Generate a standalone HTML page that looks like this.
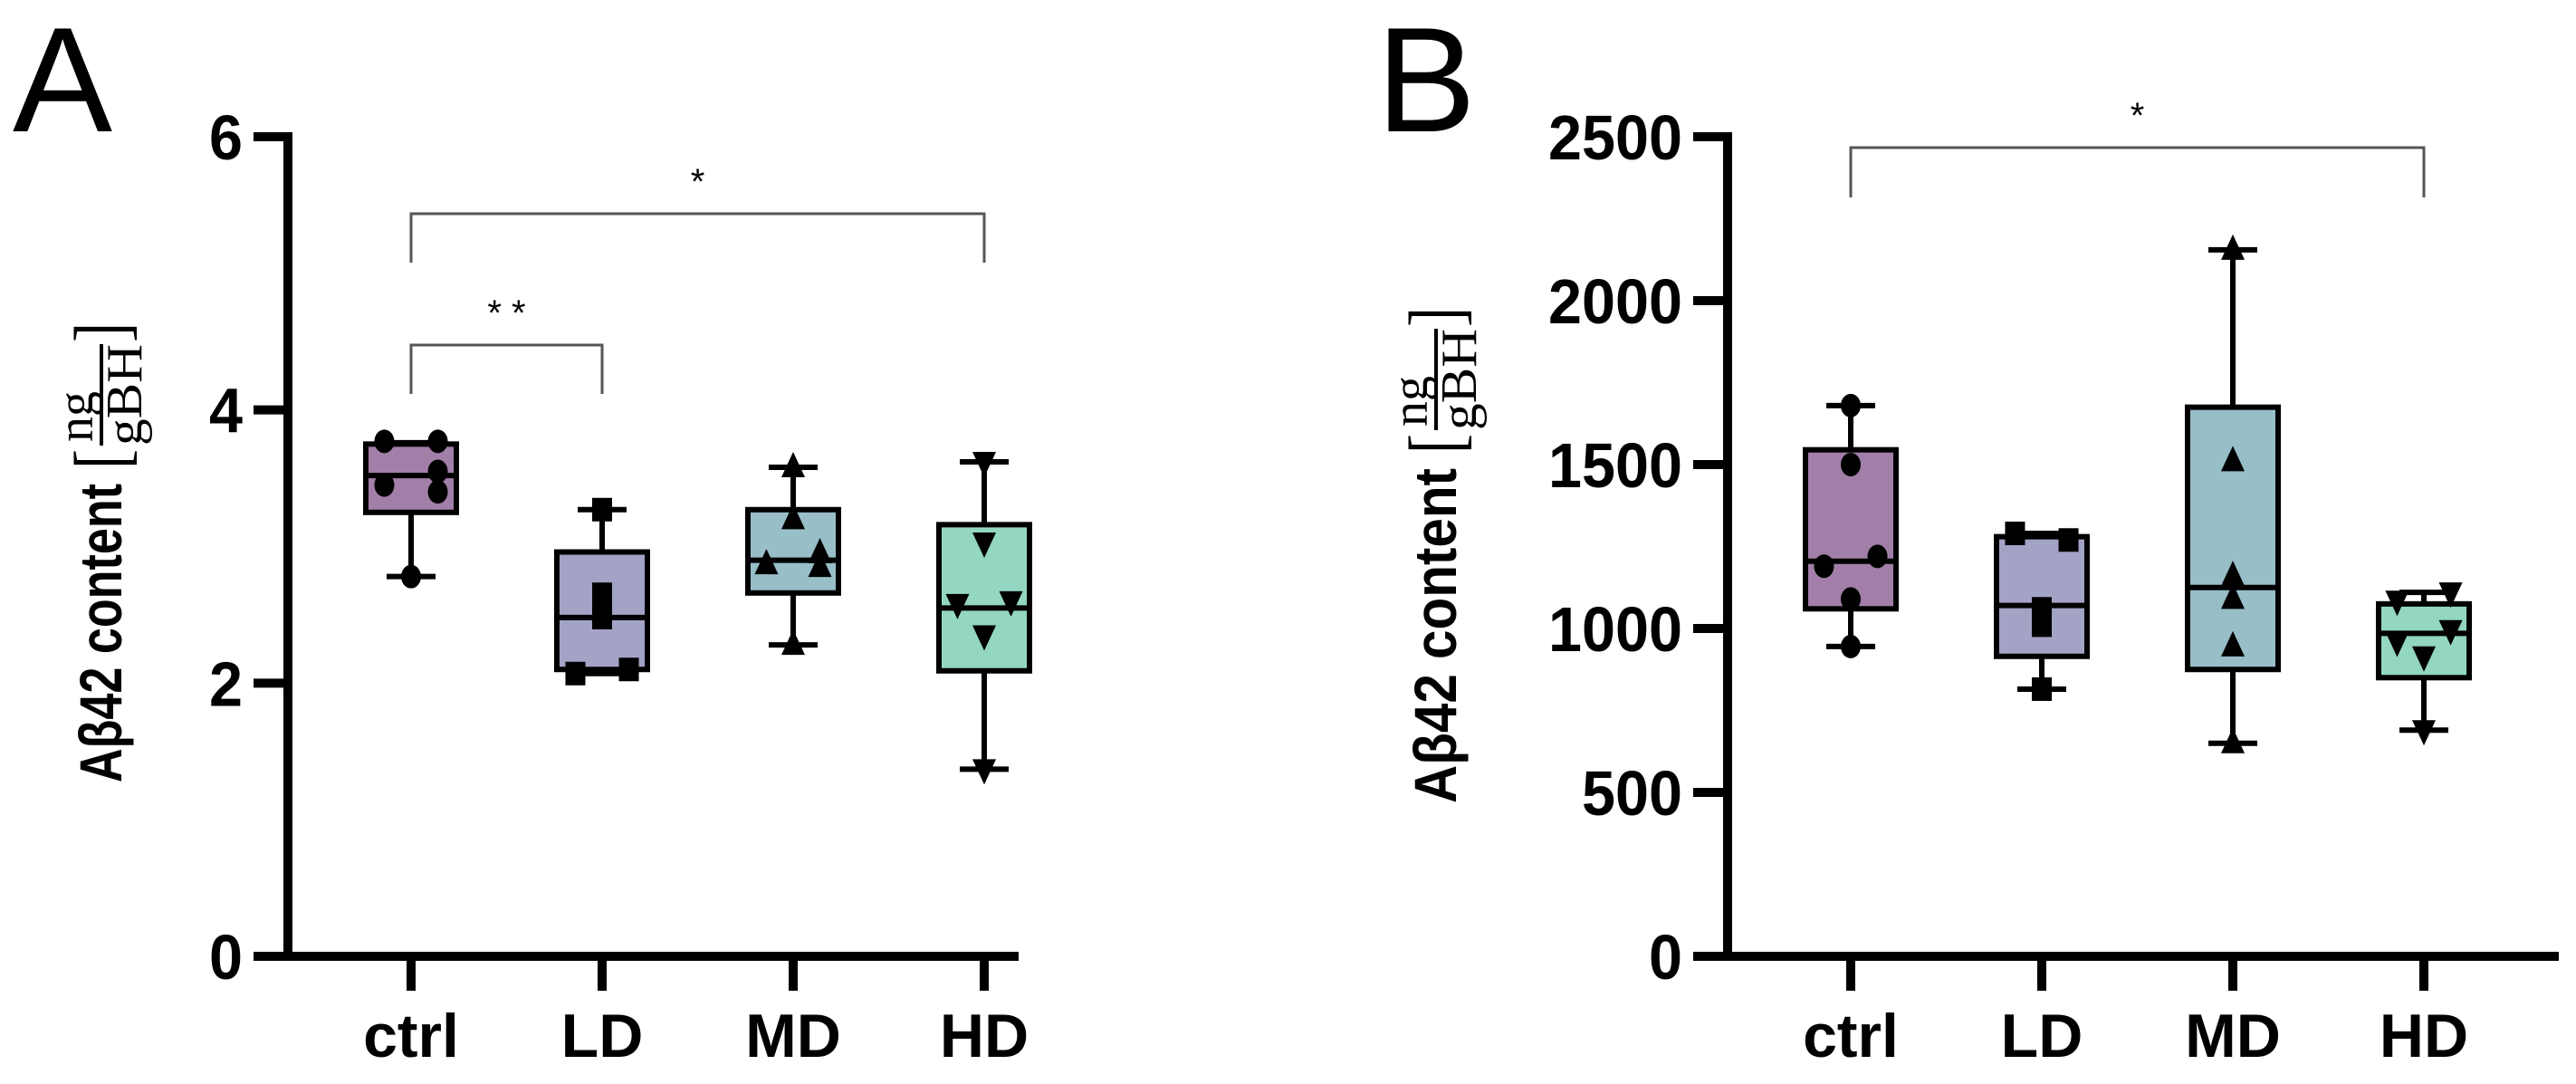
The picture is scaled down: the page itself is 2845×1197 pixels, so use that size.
<!DOCTYPE html>
<html><head><meta charset="utf-8"><style>
html,body{margin:0;padding:0;background:#fff;}
svg{display:block;font-family:"Liberation Sans",sans-serif;}
</style></head><body>
<svg id="fig" width="2845" height="1197" viewBox="0 0 2845 1197" xmlns="http://www.w3.org/2000/svg">
<text x="14" y="145" font-size="165">A</text>
<text x="1520" y="145" font-size="165">B</text>
</svg>
<script>
const categories = ["ctrl","LD","MD","HD"];
const colors = ["#a27fa8","#a3a3c6","#98bec8","#93d6c2"];
const markers = ["circle","square","triangle","tri-down"];
// Panel A
const aTicks = [0,2,4,6];
const aWhiskerLow = [2.78,2.07,2.28,1.37];
const aQ1 = [3.25,2.10,2.66,2.09];
const aMedian = [3.52,2.48,2.90,2.55];
const aQ3 = [3.75,2.96,3.27,3.16];
const aWhiskerHigh = [3.76,3.27,3.58,3.62];
const aPoints = [[3.77,3.77,3.55,3.45,3.40,2.78],[3.27,2.65,2.48,2.07,2.10],[3.58,3.20,2.95,2.87,2.85,2.28],[3.62,3.03,2.60,2.58,2.35,1.37]];
// Panel B
const bTicks = [0,500,1000,1500,2000,2500];
const bWhiskerLow = [945,815,650,690];
const bQ1 = [1060,915,875,850];
const bMedian = [1205,1070,1125,985];
const bQ3 = [1545,1280,1675,1075];
const bWhiskerHigh = [1680,1290,2155,1110];
const bPoints = [[1680,1500,1220,1190,1090,945],[1290,1270,1060,1010,815],[2155,1510,1160,1090,945,650],[1110,1085,995,960,915,690]];
const aJit = [[-0.14,0.14,0.14,-0.14,0.14,0],[0,0,0,-0.14,0.14],[0,0,0.14,-0.14,0.14,0],[0,0,0.14,-0.14,0,0]];
const bJit = [[0,0,0.14,-0.14,0,0],[-0.14,0.14,0,0,0],[0,0,0,0,0,0],[0.14,-0.14,0.14,-0.14,0,0]];

const NS="http://www.w3.org/2000/svg";
const svg=document.getElementById('fig');
function mk(tag,attrs,parent){const e=document.createElementNS(NS,tag);for(const k in attrs)e.setAttribute(k,attrs[k]);(parent||svg).appendChild(e);return e;}

function panel(cfg){
  const g=mk('g',{});
  
  
  const y=v=>cfg.y0-(v-0)/(cfg.ymax)*(cfg.y0-cfg.ytop);
  const x=i=>cfg.x0+i*cfg.step;
  const ya=mk('line',{x1:cfg.ax,y1:cfg.ytop-5,x2:cfg.ax,y2:cfg.y0+5,stroke:'#000','stroke-width':10},g);
  
  
  const xa=mk('line',{x1:cfg.ax-38,y1:cfg.y0,x2:cfg.xend,y2:cfg.y0,stroke:'#000','stroke-width':10},g);
  
  
  cfg.ticks.forEach(t=>{
    mk('line',{x1:cfg.ax-38,y1:y(t),x2:cfg.ax,y2:y(t),stroke:'#000','stroke-width':10},g);
    const s=String(t);
    const tl=mk('text',{x:cfg.ax-50,y:y(t)+25,'font-size':70,'font-weight':'bold','text-anchor':'end',textLength:s.length*37,lengthAdjust:'spacingAndGlyphs'},g);
    tl.textContent=s;
    
    
  });
  categories.forEach((c,i)=>{
    mk('line',{x1:x(i),y1:cfg.y0,x2:x(i),y2:cfg.y0+38,stroke:'#000','stroke-width':10},g);
    const cl=mk('text',{x:x(i),y:1167,'font-size':68,'font-weight':'bold','text-anchor':'middle'},g);
    cl.textContent=c;
    
    
  });
  const tg=mk('g',{transform:`translate(${cfg.titleX},${cfg.titleBottom}) rotate(-90)`},g);
  
  
  mk('text',{x:0,y:0,'font-size':66,'font-weight':'bold',textLength:cfg.titleLen,lengthAdjust:'spacingAndGlyphs'},tg).textContent='Aβ42 content';
  const st={'font-family':'Liberation Serif, serif'};
  const u=mk('g',{transform:`translate(${cfg.titleLen+16},-22)`},tg);
  
  
  mk('text',Object.assign({x:0,y:28,'font-size':84,textLength:22,lengthAdjust:'spacingAndGlyphs'},st),u).textContent='[';
  mk('text',Object.assign({x:30,y:-10,'font-size':56},st),u).textContent='ng';
  mk('line',{x1:26,y1:0,x2:138,y2:0,stroke:'#000','stroke-width':4},u);
  mk('text',Object.assign({x:26,y:44,'font-size':56,textLength:112,lengthAdjust:'spacingAndGlyphs'},st),u).textContent='gBH';
  mk('text',Object.assign({x:140,y:28,'font-size':84,textLength:22,lengthAdjust:'spacingAndGlyphs'},st),u).textContent=']';
  const hw=cfg.boxW/2;
  categories.forEach((c,i)=>{
    const bg=mk('g',{},g);
    
    
    mk('line',{x1:x(i),y1:y(cfg.wl[i]),x2:x(i),y2:y(cfg.wh[i]),stroke:'#000','stroke-width':6},bg);
    [cfg.wl[i],cfg.wh[i]].forEach(v=>mk('line',{x1:x(i)-27,y1:y(v),x2:x(i)+27,y2:y(v),stroke:'#000','stroke-width':6},bg));
    mk('rect',{x:x(i)-hw,y:y(cfg.q3[i]),width:cfg.boxW,height:y(cfg.q1[i])-y(cfg.q3[i]),fill:colors[i],stroke:'#000','stroke-width':6},bg);
    mk('line',{x1:x(i)-hw,y1:y(cfg.med[i]),x2:x(i)+hw,y2:y(cfg.med[i]),stroke:'#000','stroke-width':6},bg);
    cfg.pts[i].forEach((v,j)=>{
      const px=x(i)+cfg.jit[i][j]*cfg.step, py=y(v);
      let m;
      if(markers[i]==='circle') m=mk('ellipse',{cx:px,cy:py,rx:11,ry:13,fill:'#000'},bg);
      else if(markers[i]==='square') m=mk('rect',{x:px-11,y:py-13,width:22,height:26,fill:'#000'},bg);
      else if(markers[i]==='triangle') m=mk('polygon',{points:`${px},${py-17} ${px-13},${py+11} ${px+13},${py+11}`,fill:'#000'},bg);
      else m=mk('polygon',{points:`${px},${py+17} ${px-13},${py-11} ${px+13},${py-11}`,fill:'#000'},bg);
      
      
    });
  });
  cfg.sig.forEach(s=>{
    const sg=mk('g',{},g);
    
    
    mk('polyline',{points:`${x(s.a)},${s.yb} ${x(s.a)},${s.yt} ${x(s.b)},${s.yt} ${x(s.b)},${s.yb}`,fill:'none',stroke:'#555','stroke-width':3},sg);
    mk('text',{x:(x(s.a)+x(s.b))/2,y:s.yt-22,'font-size':40,'text-anchor':'middle'},sg).textContent=s.label;
  });
}

panel({name:'panel-a-chart',ax:318,ytop:151,y0:1056,ymax:6,x0:454,step:211,xend:1125,boxW:100,ticks:aTicks,
  wl:aWhiskerLow,q1:aQ1,med:aMedian,q3:aQ3,wh:aWhiskerHigh,pts:aPoints,jit:aJit,titleX:134,titleBottom:864,titleLen:330,
  sig:[{a:0,b:3,yt:236,yb:290,label:'*'},{a:0,b:1,yt:381,yb:435,label:'* *'}]});
panel({name:'panel-b-chart',ax:1908,ytop:151,y0:1056,ymax:2500,x0:2044,step:211,xend:2826,boxW:100,ticks:bTicks,
  wl:bWhiskerLow,q1:bQ1,med:bMedian,q3:bQ3,wh:bWhiskerHigh,pts:bPoints,jit:bJit,titleX:1608,titleBottom:887,titleLen:370,
  sig:[{a:0,b:3,yt:163,yb:218,label:'*'}]});
</script>
</body></html>
